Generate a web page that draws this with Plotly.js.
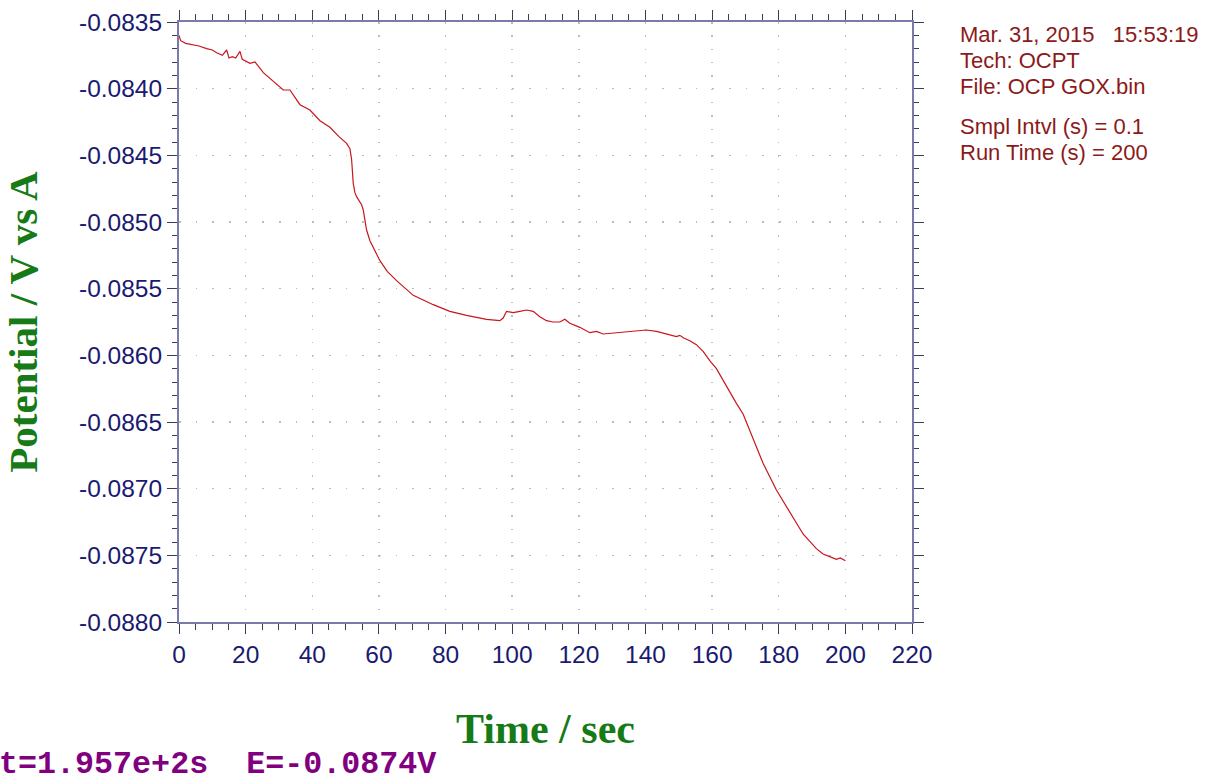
<!DOCTYPE html>
<html>
<head>
<meta charset="utf-8">
<script src="https://cdn.plot.ly/plotly-3.0.1.min.js"></script>
<style>html,body{margin:0;padding:0;background:#fff;}#chart{width:1206px;height:782px;}</style>
</head>
<body>
<div id="chart"></div>
<script>
// Time (s)
const timeSec = [0, 0.5, 2, 4.2, 6, 8.3, 10, 11.3, 13, 14.3, 15, 16, 17, 18.3, 19, 21.3, 22.8, 25.3, 28, 31.3, 33.3, 36.3, 39.3, 42.3, 45.3, 48, 50.3, 51.3, 51.8, 52.3, 52.8, 53.3, 54.8, 55.3, 56.3, 57.3, 60.3, 62.5, 65.3, 70.3, 76.3, 81.3, 86.3, 92.3, 96.3, 97.3, 98.3, 100.3, 102.3, 104.3, 106.3, 108.3, 110.3, 112.3, 114.3, 115.8, 117.3, 120.3, 123.3, 125.3, 127.3, 131.3, 136.3, 140.3, 143.3, 146.3, 149.3, 150.3, 151.5, 153.3, 155.3, 157.3, 159.3, 161.3, 163.3, 165.3, 167.3, 169.3, 172.3, 175.3, 179.3, 183.3, 187.3, 191.3, 193.3, 195.3, 197.3, 198.5, 200];
// Potential (V)
const potentialV = [-0.08360, -0.08364, -0.08366, -0.08367, -0.08368, -0.08370, -0.08371, -0.08373, -0.08375, -0.08371, -0.08377, -0.08376, -0.08377, -0.08372, -0.08378, -0.08381, -0.08380, -0.08388, -0.08394, -0.08401, -0.08401, -0.08412, -0.08416, -0.08424, -0.08429, -0.08436, -0.08441, -0.08445, -0.08453, -0.08471, -0.08478, -0.08481, -0.08487, -0.08491, -0.08506, -0.08514, -0.08529, -0.08537, -0.08544, -0.08555, -0.08562, -0.08567, -0.08570, -0.08573, -0.08574, -0.08572, -0.08567, -0.08568, -0.08567, -0.08566, -0.08567, -0.08571, -0.08574, -0.08575, -0.08575, -0.08573, -0.08576, -0.08579, -0.08583, -0.08582, -0.08584, -0.08583, -0.08582, -0.08581, -0.08582, -0.08584, -0.08586, -0.08585, -0.08587, -0.08589, -0.08592, -0.08597, -0.08604, -0.08610, -0.08619, -0.08627, -0.08636, -0.08644, -0.08663, -0.08681, -0.08701, -0.08718, -0.08734, -0.08745, -0.08749, -0.08751, -0.08753, -0.08752, -0.08754];

// Axis ticks
const xTickVals = [0, 20, 40, 60, 80, 100, 120, 140, 160, 180, 200, 220];
const yTickVals = [-0.0880, -0.0875, -0.0870, -0.0865, -0.0860, -0.0855, -0.0850, -0.0845, -0.0840, -0.0835];
const yTickLabels = ["-0.0880", "-0.0875", "-0.0870", "-0.0865", "-0.0860", "-0.0855", "-0.0850", "-0.0845", "-0.0840", "-0.0835"];

const xAxisTitle = "Time / sec";
const yAxisTitle = "Potential / V vs A";
const infoLines = ["Mar. 31, 2015   15:53:19", "Tech: OCPT", "File: OCP GOX.bin", "Smpl Intvl (s) = 0.1", "Run Time (s) = 200"];
const statusText = "t=1.957e+2s  E=-0.0874V";

const plotL = 179, plotR = 912, plotT = 22, plotB = 622;
const W = 1206, H = 782;
const pw = plotR - plotL, ph = plotB - plotT;
const px2paper = (px) => (px - plotL) / pw;
const py2paper = (py) => (plotB - py) / ph;

const tickFont = {family: "Liberation Sans, Arial, sans-serif", size: 24.5, color: "#1a1a70"};
const titleFont = {family: "Liberation Serif, Times New Roman, serif", size: 42, color: "#167a16", weight: "bold"};
const lineCol = "#7a7aaa", tickCol = "#3a3a5a", gridCol = "#bcbcbc";

const infoY = [34, 60, 87, 126, 152];
const annotations = infoLines.map((t, i) => ({
  text: t, xref: "paper", yref: "paper", x: px2paper(958), y: py2paper(infoY[i]),
  xanchor: "left", yanchor: "middle", showarrow: false,
  font: {family: "Liberation Sans, Arial, sans-serif", size: 22, color: "#8b1a1a"}
}));
annotations.push({
  text: statusText, xref: "paper", yref: "paper", x: px2paper(-3), y: py2paper(765),
  xanchor: "left", yanchor: "middle", showarrow: false,
  font: {family: "Liberation Mono, Courier New, monospace", size: 31.7, color: "#800080", weight: "bold"}
});

const data = [{
  x: timeSec, y: potentialV, type: "scatter", mode: "lines",
  line: {color: "#c8161c", width: 1.2}, hoverinfo: "skip"
}];

const layout = {
  width: W, height: H,
  margin: {l: plotL, r: W - plotR, t: plotT, b: H - plotB, pad: 0},
  paper_bgcolor: "#ffffff", plot_bgcolor: "#ffffff",
  showlegend: false,
  xaxis: {
    range: [0, 220], tickmode: "array", tickvals: xTickVals, ticks: "outside", ticklen: 10, tickwidth: 1, tickcolor: tickCol,
    showline: true, linecolor: lineCol, linewidth: 2, mirror: "ticks", zeroline: false,
    showgrid: true, gridcolor: gridCol, gridwidth: 1.5, griddash: "1.5px,11.83px",
    minor: {dtick: 5, tick0: 0, ticks: "outside", ticklen: 6, tickwidth: 1, tickcolor: tickCol, showgrid: false},
    tickfont: tickFont,
    title: {text: xAxisTitle, font: titleFont, standoff: 46}
  },
  yaxis: {
    range: [-0.0880, -0.0835], tickmode: "array", tickvals: yTickVals, ticktext: yTickLabels,
    ticks: "outside", ticklen: 10, tickwidth: 1, tickcolor: tickCol,
    showline: true, linecolor: lineCol, linewidth: 2, mirror: "ticks", zeroline: false,
    showgrid: true, gridcolor: gridCol, gridwidth: 1.5, griddash: "1.5px,15.17px",
    minor: {dtick: 0.0001, tick0: -0.0880, ticks: "outside", ticklen: 5, tickwidth: 1, tickcolor: tickCol, showgrid: false},
    tickfont: tickFont,
    title: {text: yAxisTitle, font: {family: titleFont.family, size: 41, color: titleFont.color, weight: "bold"}, standoff: 32}
  },
  annotations: annotations
};

Plotly.newPlot("chart", data, layout, {displayModeBar: false, staticPlot: true});
</script>
</body>
</html>
